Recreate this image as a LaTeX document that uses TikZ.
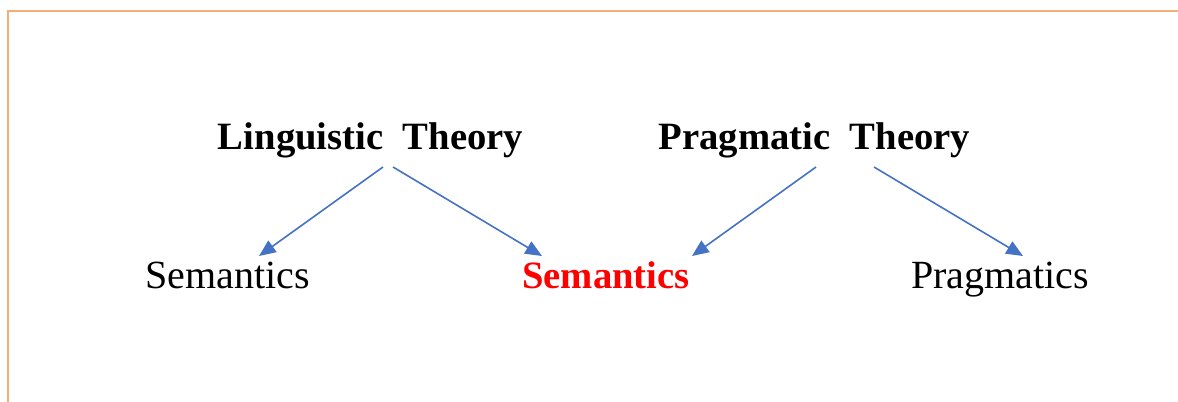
\documentclass[tikz,border=0pt]{standalone}
\usepackage{fontspec}
\setmainfont{Liberation Serif}
\usepackage{xcolor}
\usetikzlibrary{arrows.meta, calc}
\definecolor{arrowblue}{HTML}{4472C4}
\definecolor{frameorange}{HTML}{F6AE74}

\begin{document}
\begin{tikzpicture}[
    x=0.75pt, y=-0.75pt,
    >={Triangle[length=12.5pt, width=10.5pt]},
    theory/.style={inner sep=0pt, anchor=base,
                   font=\fontsize{29}{35}\selectfont\bfseries},
    term/.style  ={inner sep=0pt, anchor=base,
                   font=\fontsize{30}{36}\selectfont},
    flow/.style  ={->, line width=1.2pt, draw=arrowblue, fill=arrowblue},
]
\useasboundingbox (0,0) rectangle (1178,401);
% open frame, cut off at right and bottom
\draw[frameorange, line width=2.2pt] (8,420) -- (8,11) -- (1190,11);

\node[theory] (ling) at (370.5,149) {Linguistic\ \ Theory};
\node[theory] (prag) at (814.5,149) {Pragmatic\ \ Theory};
\node[term] (sem)  at (227.5,288) {Semantics};
\node[term, text=red, font=\fontsize{29}{35}\selectfont\bfseries] (shared) at (606,288) {Semantics};
\node[term] (pragm) at (1000,288) {Pragmatics};

\draw[flow] ($(ling.base)+(12.5,18)$) -- ($(sem.base)+(31.5,-32)$);
\draw[flow] ($(ling.base)+(22.5,18)$) -- ($(shared.base)+(-64,-32)$);
\draw[flow] ($(prag.base)+(1.5,18)$)  -- ($(shared.base)+(86,-32)$);
\draw[flow] ($(prag.base)+(59.5,18)$) -- ($(pragm.base)+(23,-32)$);
\end{tikzpicture}
\end{document}
